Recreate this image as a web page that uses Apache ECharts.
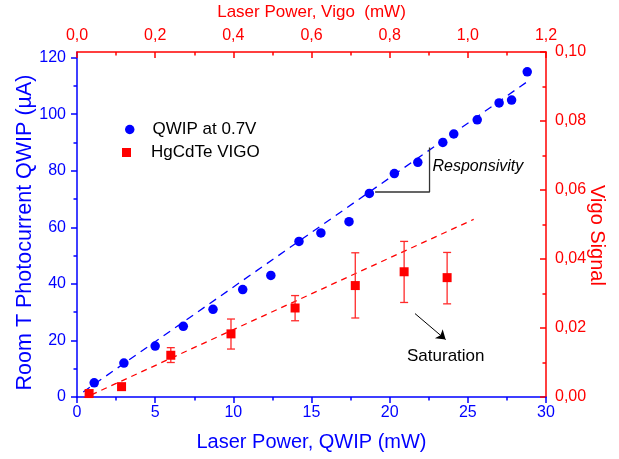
<!DOCTYPE html>
<html><head><meta charset="utf-8">
<script src="https://cdn.jsdelivr.net/npm/echarts@6/dist/echarts.min.js"></script>
<style>html,body{margin:0;padding:0;background:#fff}#c{width:619px;height:459px}</style>
</head><body><div id="c"></div>
<script>
// ---- data ----
const qwipPower   = [1.1, 3.0, 5.0, 6.8, 8.7, 10.6, 12.4, 14.2, 15.6, 17.4, 18.7, 20.3, 21.8, 23.4, 24.1, 25.6, 27.0, 27.8, 28.8];
const qwipCurrent = [5, 12, 18, 25, 31, 38, 43, 55, 58, 62, 72, 79, 83, 90, 93, 98, 104, 105, 115];
const qwipFitX = [0.4, 28.8];
const qwipFitY = [1.8, 111.5];
const vigoPower  = [0.031, 0.114, 0.240, 0.394, 0.558, 0.712, 0.837, 0.947];
const vigoSignal = [0.0010, 0.0030, 0.0121, 0.0183, 0.0258, 0.0323, 0.0363, 0.0346];
const vigoErrLow  = [null, null, 0.0100, 0.0139, 0.0221, 0.0229, 0.0274, 0.0270];
const vigoErrHigh = [null, null, 0.0143, 0.0226, 0.0294, 0.0418, 0.0451, 0.0419];
const vigoFitX = [0.011, 1.015];
const vigoFitY = [-0.0007, 0.0515];
const bottomTicks = [0, 5, 10, 15, 20, 25, 30];
const topTicks = [0, 0.2, 0.4, 0.6, 0.8, 1.0, 1.2];
const leftTicks = [0, 20, 40, 60, 80, 100, 120];
const leftMinorTicks = [10, 30, 50, 70, 90, 110];
const rightTicks = [0, 0.02, 0.04, 0.06, 0.08, 0.10];
const bracketX = [19.07, 22.55, 22.55];
const bracketY = [72.5, 72.5, 88.2];
const arrowX = [21.62, 23.58];
const arrowY = [29.5, 20.3];

const BLUE = '#0000ff', RED = '#ff0000';
const FONT = '"Liberation Sans", Arial, sans-serif';
const chart = echarts.init(document.getElementById('c'), null, {renderer: 'canvas'});

const qwipData = qwipPower.map((x, i) => [x, qwipCurrent[i]]);
const vigoData = vigoPower.map((x, i) => [x, vigoSignal[i]]);
const errData = [];
vigoPower.forEach((x, i) => { if (vigoErrLow[i] != null) errData.push([x, vigoErrLow[i], vigoErrHigh[i]]); });

function axisCommon(color) {
  return {
    axisLine: {show: true, onZero: false, lineStyle: {color: color, width: 1.5}},
    splitLine: {show: false},
    nameMoveOverlap: false,
    axisLabel: {color: color, fontSize: 16, fontFamily: FONT},
    nameTextStyle: {color: color, fontFamily: FONT}
  };
}

function legendText(spacer) {
  return {fontSize: 17, color: '#000', fontFamily: FONT,
          rich: {s: {width: spacer}, t: {fontSize: 17, color: '#000', fontFamily: FONT}}};
}

const option = {
  animation: false,
  backgroundColor: '#fff',
  textStyle: {fontFamily: FONT},
  grid: {left: 77, top: 52, width: 469, height: 345, containLabel: false, outerBoundsMode: 'none'},
  legend: [
    {left: 120, top: 116, padding: 5, itemWidth: 9.5, itemHeight: 9.5, itemGap: 0,
     data: [{name: 'QWIP at 0.7V', icon: 'circle'}],
     formatter: n => '{s|}{t|' + n + '}',
     textStyle: legendText(13)},
    {left: 117, top: 139, padding: 5, itemWidth: 9, itemHeight: 9, itemGap: 0,
     data: [{name: 'HgCdTe VIGO', icon: 'rect'}],
     formatter: n => '{s|}{t|' + n + '}',
     textStyle: legendText(15)}
  ],
  xAxis: [
    Object.assign(axisCommon(BLUE), {
      type: 'value', position: 'bottom', min: bottomTicks[0], max: bottomTicks[bottomTicks.length - 1],
      interval: bottomTicks[1] - bottomTicks[0],
      axisTick: {show: true, inside: false, length: 6, lineStyle: {color: BLUE, width: 1.5}},
      minorTick: {show: true, splitNumber: 2, length: 3.5, lineStyle: {color: BLUE, width: 1.5}},
      name: 'Laser Power, QWIP (mW)', nameLocation: 'middle', nameGap: 35,
      nameTextStyle: {color: BLUE, fontSize: 20, fontFamily: FONT}
    }),
    Object.assign(axisCommon(RED), {
      type: 'value', position: 'top', min: topTicks[0], max: topTicks[topTicks.length - 1],
      interval: 0.2,
      axisTick: {show: true, inside: true, length: 6, lineStyle: {color: RED, width: 1.5}},
      minorTick: {show: true, splitNumber: 2, length: 3.5, lineStyle: {color: RED, width: 1.5}},
      axisLabel: {color: RED, fontSize: 16, fontFamily: FONT, margin: 8,
        formatter: v => v.toFixed(1).replace('.', ',')},
      name: 'Laser Power, Vigo  (mW)', nameLocation: 'middle', nameGap: 31,
      nameTextStyle: {color: RED, fontSize: 17, fontFamily: FONT}
    })
  ],
  yAxis: [
    Object.assign(axisCommon(BLUE), {
      type: 'value', position: 'left', min: 0, max: 122,
      axisTick: {show: true, inside: false, length: 6, customValues: leftTicks, lineStyle: {color: BLUE, width: 1.5}},
      axisLabel: {color: BLUE, fontSize: 16, fontFamily: FONT, margin: 11, customValues: leftTicks},
      name: 'Room T Photocurrent QWIP (µA)', nameLocation: 'middle', nameGap: 41,
      nameTextStyle: {color: BLUE, fontSize: 21.5, fontFamily: FONT, padding: [0, 16, 0, 0]}
    }),
    {
      type: 'value', position: 'left', min: 0, max: 122,
      axisLine: {show: false}, splitLine: {show: false}, axisLabel: {show: false},
      axisTick: {show: true, inside: false, length: 3.5, customValues: leftMinorTicks, lineStyle: {color: BLUE, width: 1.5}}
    },
    Object.assign(axisCommon(RED), {
      type: 'value', position: 'right', min: rightTicks[0], max: rightTicks[rightTicks.length - 1],
      interval: 0.02,
      axisTick: {show: true, inside: true, length: 6, lineStyle: {color: RED, width: 1.5}},
      minorTick: {show: true, splitNumber: 2, length: 3.5, lineStyle: {color: RED, width: 1.5}},
      axisLabel: {color: RED, fontSize: 16, fontFamily: FONT, margin: 9,
        formatter: v => v.toFixed(2).replace('.', ',')},
      name: 'Vigo Signal', nameLocation: 'middle', nameGap: 41, nameRotate: -90,
      nameTextStyle: {color: RED, fontSize: 20, fontFamily: FONT, padding: [0, 0, 0, 22]}
    })
  ],
  series: [
    {
      type: 'line', name: 'qwipFit', xAxisIndex: 0, yAxisIndex: 0, silent: true,
      data: qwipFitX.map((x, i) => [x, qwipFitY[i]]), showSymbol: false, symbol: 'none',
      lineStyle: {color: BLUE, width: 1.3, type: [8, 6]}, z: 1
    },
    {
      type: 'line', name: 'vigoFit', xAxisIndex: 1, yAxisIndex: 2, silent: true,
      data: vigoFitX.map((x, i) => [x, vigoFitY[i]]), showSymbol: false, symbol: 'none',
      lineStyle: {color: RED, width: 1.3, type: [6, 5]}, z: 1
    },
    {
      type: 'custom', name: 'vigoErr', xAxisIndex: 1, yAxisIndex: 2, silent: true,
      data: errData, encode: {x: 0, y: [1, 2]}, z: 2,
      renderItem: function (params, api) {
        const lo = api.coord([api.value(0), api.value(1)]);
        const hi = api.coord([api.value(0), api.value(2)]);
        const w = 4;
        const st = {stroke: '#ff2a2a', lineWidth: 1.3};
        return {type: 'group', children: [
          {type: 'line', shape: {x1: lo[0], y1: lo[1], x2: hi[0], y2: hi[1]}, style: st},
          {type: 'line', shape: {x1: lo[0] - w, y1: lo[1], x2: lo[0] + w, y2: lo[1]}, style: st},
          {type: 'line', shape: {x1: hi[0] - w, y1: hi[1], x2: hi[0] + w, y2: hi[1]}, style: st}
        ]};
      }
    },
    {
      type: 'scatter', name: 'QWIP at 0.7V', xAxisIndex: 0, yAxisIndex: 0,
      data: qwipData, symbol: 'circle', symbolSize: 9.5, itemStyle: {color: BLUE, opacity: 1}, z: 3
    },
    {
      type: 'scatter', name: 'HgCdTe VIGO', xAxisIndex: 1, yAxisIndex: 2,
      data: vigoData, symbol: 'rect', symbolSize: 9, itemStyle: {color: RED, opacity: 1}, z: 3
    },
    {
      type: 'line', name: 'bracket', xAxisIndex: 0, yAxisIndex: 0, silent: true,
      data: bracketX.map((x, i) => [x, bracketY[i]]), showSymbol: false, symbol: 'none',
      lineStyle: {color: '#333', width: 1.3}, z: 2,
      markLine: {
        silent: true, symbol: ['none', 'arrow'], symbolSize: 9,
        label: {show: false},
        lineStyle: {color: '#000', type: 'solid', width: 1},
        emphasis: {disabled: true},
        data: [[{coord: [arrowX[0], arrowY[0]]}, {coord: [arrowX[1], arrowY[1]]}]]
      }
    }
  ],
  graphic: [
    {type: 'text', left: 432.5, top: 159, silent: true,
     style: {text: 'Responsivity', fill: '#000', font: 'italic 16px ' + FONT}},
    {type: 'text', left: 407, top: 348, silent: true,
     style: {text: 'Saturation', fill: '#000', font: '17px ' + FONT}}
  ]
};
chart.setOption(option);
</script></body></html>
